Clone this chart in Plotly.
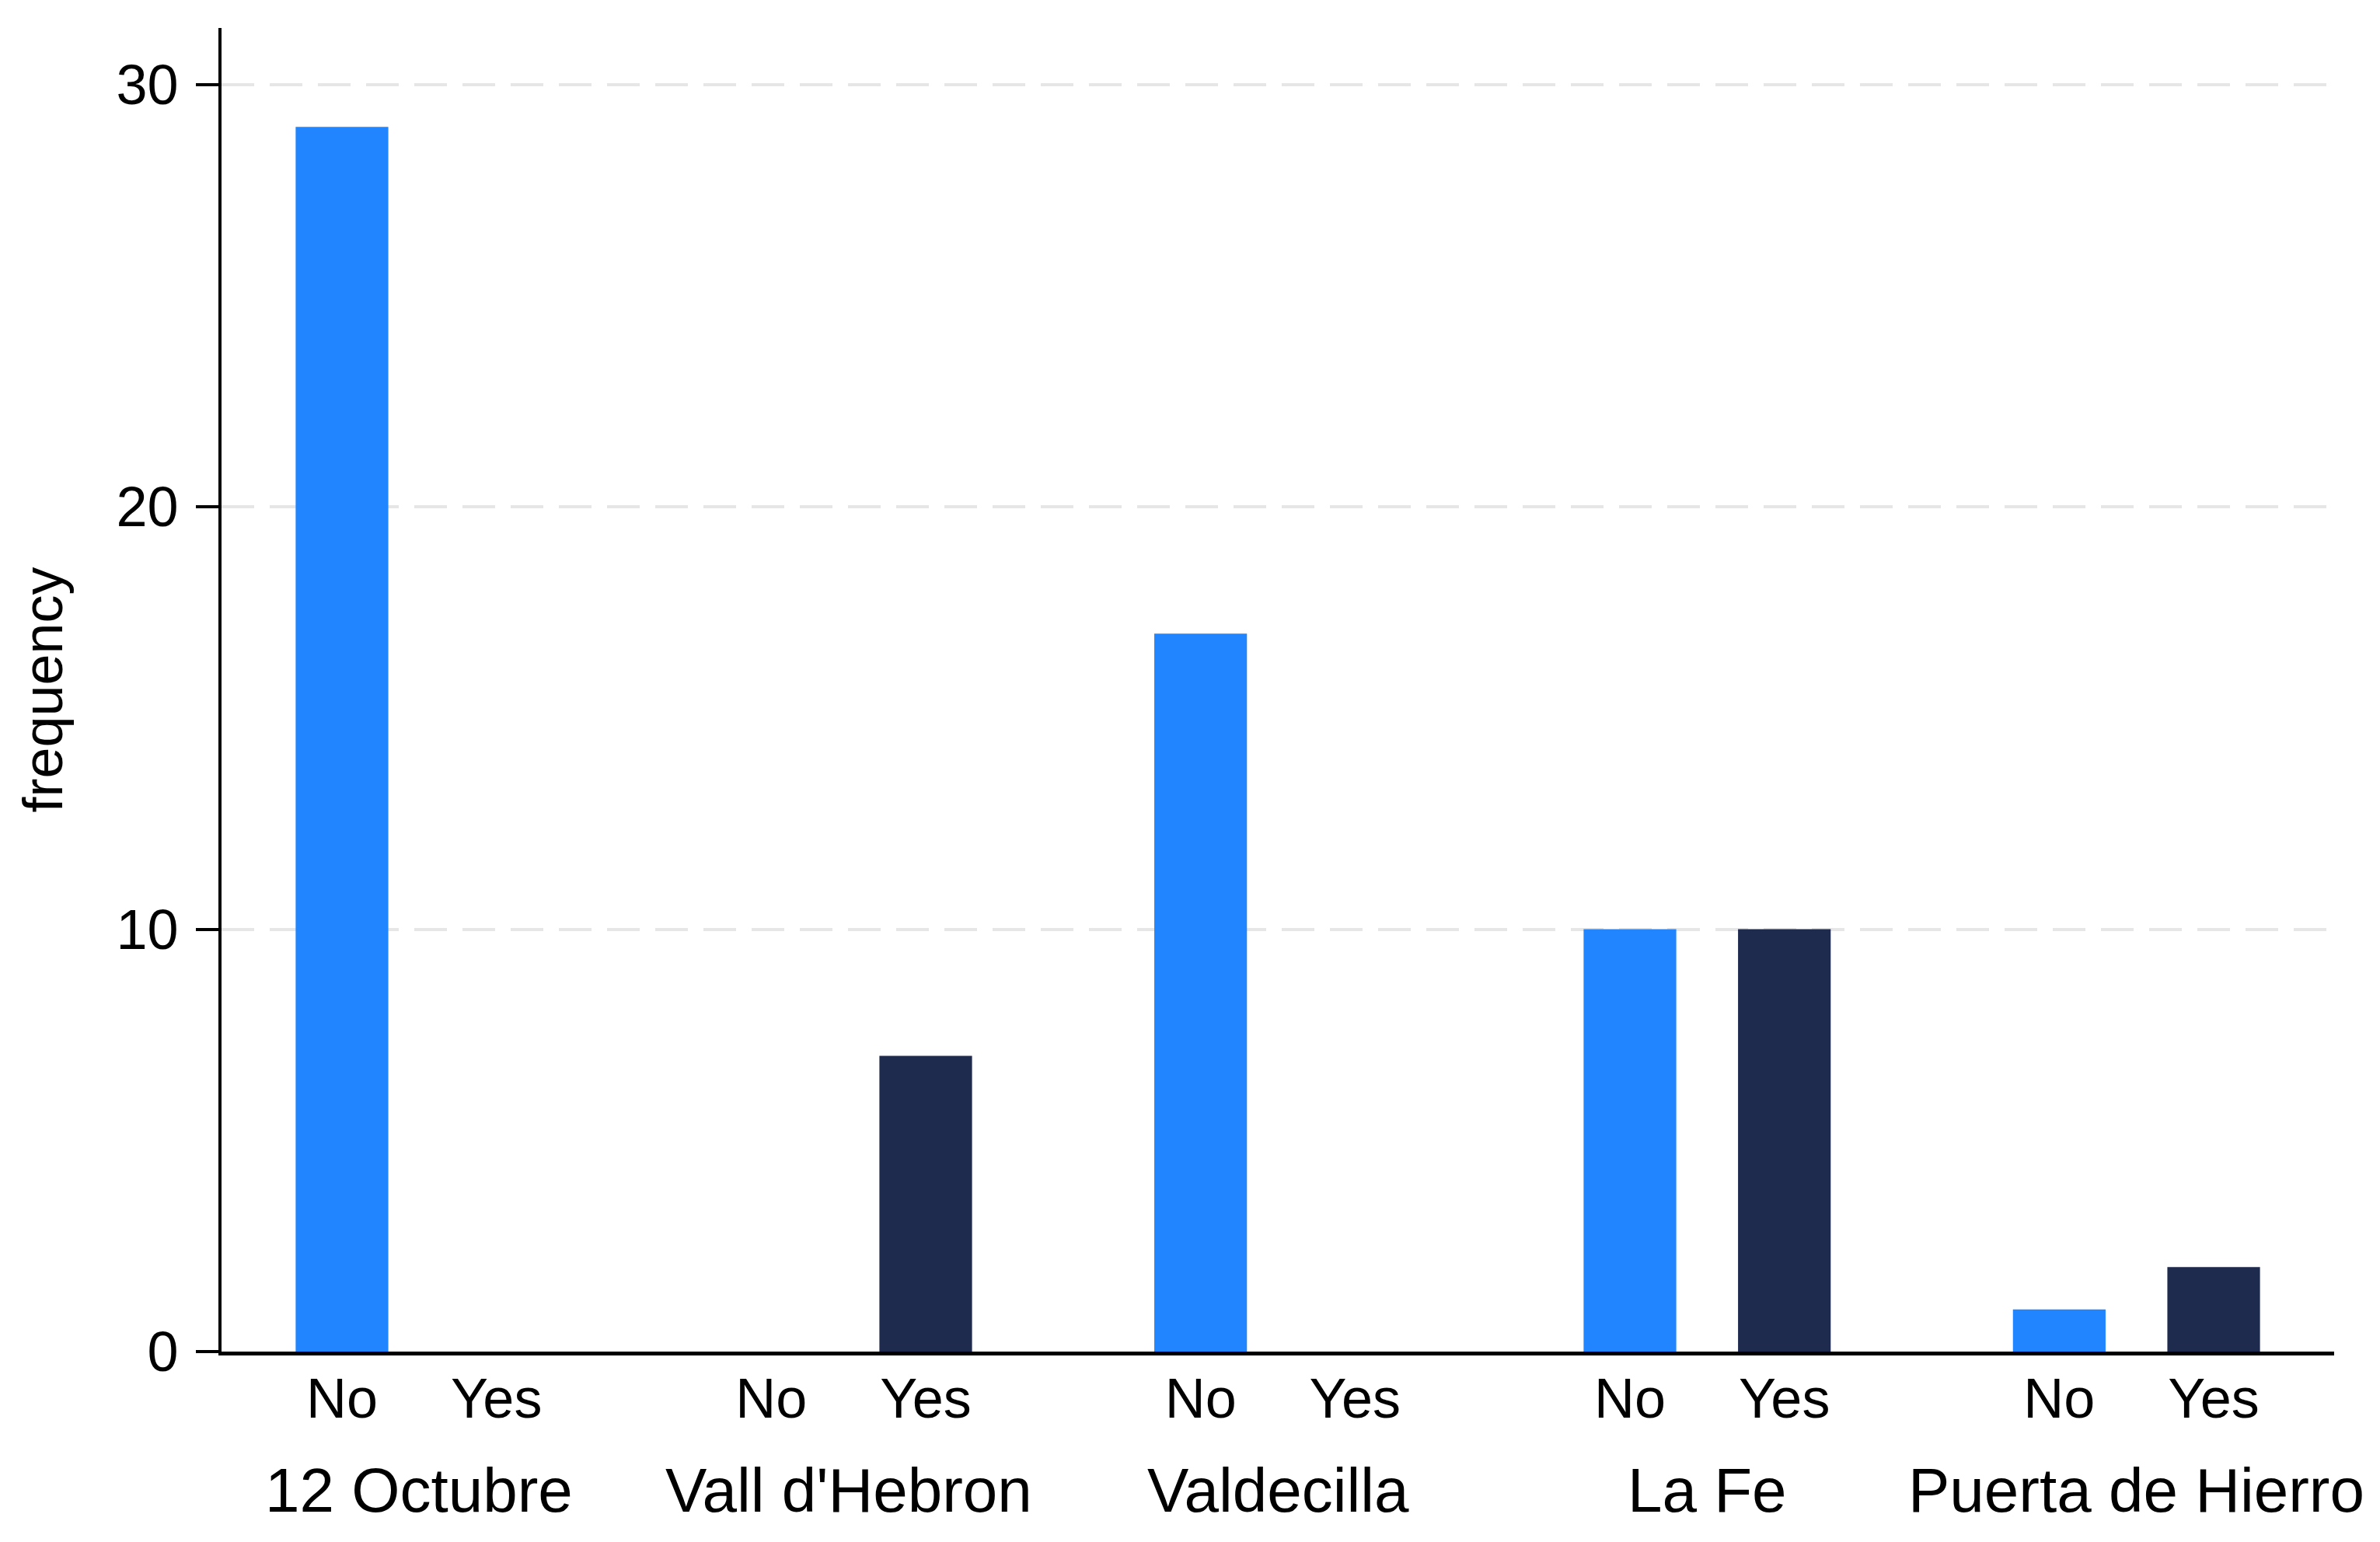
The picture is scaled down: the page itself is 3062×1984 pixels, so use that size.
import plotly.graph_objects as go

hospitals = ['12 Octubre', "Vall d'Hebron", 'Valdecilla', 'La Fe', 'Puerta de Hierro']
answers = ['No', 'Yes']
no_counts = [29, 0, 17, 10, 1]
yes_counts = [0, 7, 0, 10, 2]

y_ticks = [0, 10, 20, 30]

blue = '#2085ff'
navy = '#1f2a4f'
font_family = 'Liberation Sans, Arial, Helvetica, sans-serif'

# group spacing in units of the distance between the two bars of a group
group_gap = 2.78
x_no = [i * group_gap for i in range(len(hospitals))]
x_yes = [x + 1 for x in x_no]
group_centers = [x + 0.5 for x in x_no]

fig = go.Figure()

fig.add_trace(go.Bar(
    x=x_no,
    y=no_counts,
    width=0.6,
    marker=dict(color=blue, line=dict(width=0)),
    name='No',
    showlegend=False
))
fig.add_trace(go.Bar(
    x=x_yes,
    y=yes_counts,
    width=0.6,
    marker=dict(color=navy, line=dict(width=0)),
    name='Yes',
    showlegend=False
))

tickvals = []
ticktext = []
for a, b in zip(x_no, x_yes):
    tickvals += [a, b]
    ticktext += answers

# hospital names under each pair of bars
for xc, name in zip(group_centers, hospitals):
    fig.add_annotation(
        x=xc, xref='x',
        y=-0.105, yref='paper',
        yanchor='middle',
        text=name,
        showarrow=False,
        font=dict(size=80, color='black', family=font_family)
    )

fig.update_layout(
    width=3062,
    height=1984,
    paper_bgcolor='white',
    plot_bgcolor='white',
    margin=dict(l=277, r=67, t=28, b=253),
    barmode='overlay',
    font=dict(family=font_family, color='black'),
    showlegend=False
)

fig.update_xaxes(
    range=[-0.78, x_yes[-1] + 0.78],
    tickvals=tickvals,
    ticktext=ticktext,
    ticks='outside',
    ticklen=0,
    tickfont=dict(size=72, color='black'),
    ticklabelstandoff=-6,
    showgrid=False,
    zeroline=False,
    showline=True,
    linecolor='black',
    linewidth=5
)

fig.update_yaxes(
    range=[0, 31.34],
    tickvals=y_ticks,
    ticks='outside',
    ticklen=29,
    tickwidth=4,
    tickcolor='black',
    tickfont=dict(size=72, color='black'),
    ticklabelstandoff=8,
    showgrid=True,
    gridcolor='#e6e6e6',
    gridwidth=4,
    griddash='42px,20px',
    zeroline=False,
    showline=True,
    linecolor='black',
    linewidth=4,
    title=dict(text='frequency', font=dict(size=72, color='black'), standoff=46)
)

fig.write_html('out.html')
